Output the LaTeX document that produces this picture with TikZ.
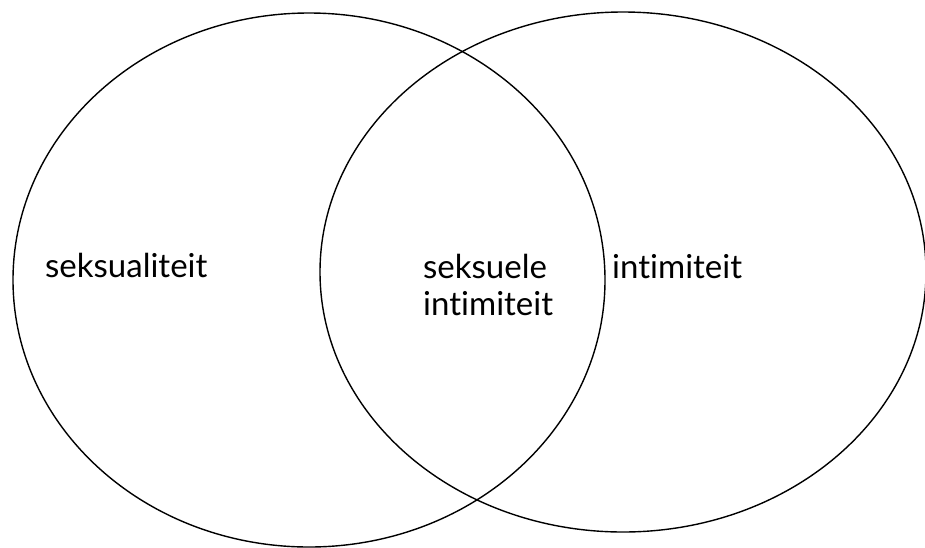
\documentclass[tikz,border=0pt]{standalone}
\usepackage{fontspec}
\setmainfont[Ligatures={NoCommon,NoDiscretionary}]{Lato}
\usetikzlibrary{positioning}
\definecolor{ink}{HTML}{000000}
\tikzset{
  setline/.style={draw=ink,line width=1.4pt},
  setlabel/.style={font=\fontsize{33}{37}\selectfont,text=ink,inner sep=0pt,align=left}
}
\begin{document}
\begin{tikzpicture}[x=1pt,y=-1pt]
\clip (0,0) rectangle (925,547);

% The two sets
\draw[setline] (309,280) ellipse [x radius=296,y radius=267];
\draw[setline] (623,272) ellipse [x radius=303,y radius=260];

% Labels
\node[setlabel,anchor=base west] (sexuality) at (45,277) {seksualiteit};
\node[setlabel,anchor=base west] (overlap) at (423,315) {seksuele\\intimiteit};
\node[setlabel,anchor=base west] (intimacy) at (612,278) {intimiteit};

\end{tikzpicture}
\end{document}
